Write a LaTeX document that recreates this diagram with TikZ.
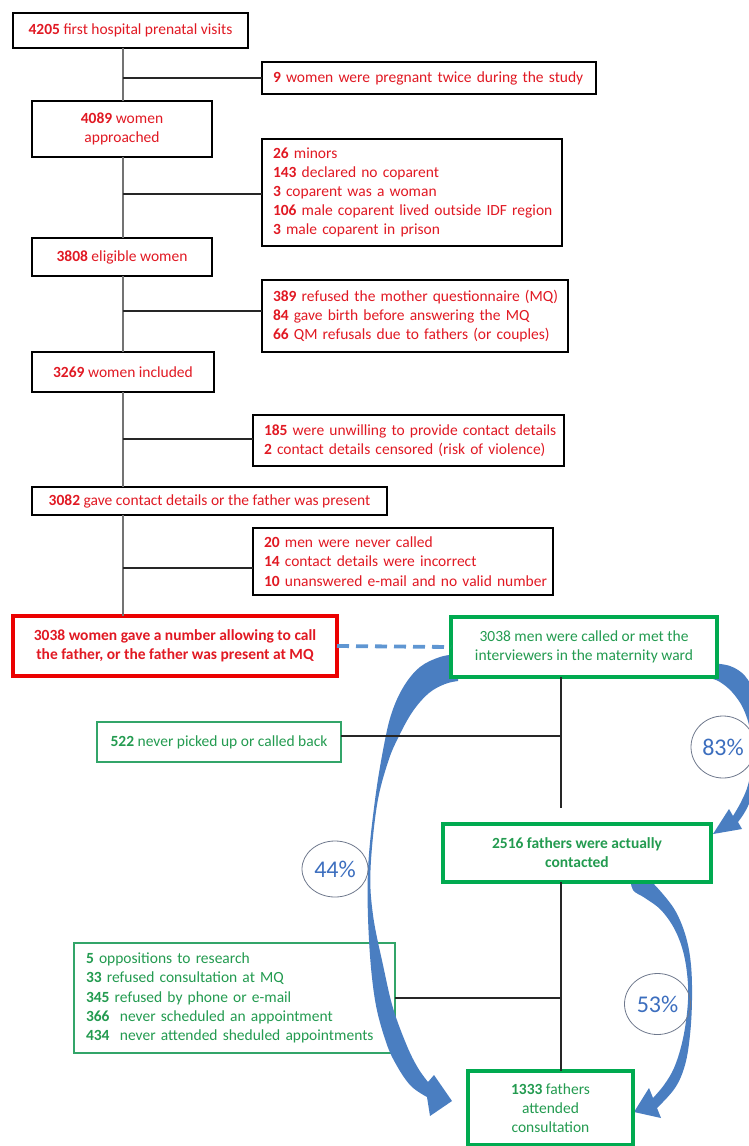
\documentclass[tikz,border=0pt]{standalone}
\usepackage{fontspec}
\setmainfont{Carlito}
\usetikzlibrary{shapes.geometric}
\definecolor{tred}{RGB}{225,25,35}
\definecolor{kred}{RGB}{235,0,0}
\definecolor{tgreen}{RGB}{35,155,80}
\definecolor{gborder}{RGB}{0,170,80}
\definecolor{gthincol}{RGB}{50,165,105}
\definecolor{arrowblue}{RGB}{74,126,193}
\definecolor{dashblue}{RGB}{95,150,210}
\definecolor{pctblue}{RGB}{60,110,190}
\definecolor{circcol}{RGB}{110,120,140}
\newcommand\bodyfont{\fontsize{15.5}{19.2}\selectfont}
\newcommand\pctfont{\fontsize{24}{28}\selectfont}
\newcommand\oneline[1]{\mbox{#1}}
\begin{document}
\begin{tikzpicture}[x=1pt,y=-1pt,
  box/.style={draw, fill=white, anchor=north west, inner ysep=0pt, inner xsep=0pt, outer sep=0pt, font=\bodyfont, align=center},
  blk/.style={box, draw=black, line width=1.4pt, text=tred},
  blkl/.style={blk, align=left, inner xsep=11pt},
  redthick/.style={box, draw=kred, line width=3.6pt, text=tred, font=\bodyfont\bfseries},
  gthick/.style={box, draw=gborder, line width=3.6pt, text=tgreen},
  gthin/.style={box, draw=gthincol, line width=1.2pt, text=tgreen},
  gthinl/.style={gthin, align=left, inner xsep=12pt},
  vline/.style={draw=black!55, line width=1.3pt},
  hline/.style={draw=black!85, line width=1.3pt},
  arr/.style={fill=arrowblue},
  pct/.style={ellipse, draw=circcol, line width=0.8pt, inner sep=0pt, text=pctblue, font=\pctfont},
  dashconn/.style={draw=dashblue, line width=3.8pt, dash pattern=on 12pt off 7pt}
]
\path[use as bounding box] (0,0) rectangle (749,1146);
\coordinate (main) at (123,0);
\coordinate (rmain) at (561,0);
\coordinate (gapend) at (561,808);

% red / black part
\node[blk, minimum width=235pt, minimum height=35pt] (A) at (13,13) {\textbf{4205} first hospital prenatal visits};
\node[blkl, text width=312pt, minimum height=32pt] (B) at (262,62) {\oneline{\textbf{9} women were pregnant twice during the study}};
\node[blk, minimum width=180pt, minimum height=56pt] (C) at (32,101) {\textbf{4089} women\\approached};
\node[blkl, text width=278pt, minimum height=107pt] (D) at (262,139) {\oneline{\textbf{26} minors}\\\oneline{\textbf{143} declared no coparent}\\\oneline{\textbf{3} coparent was a woman}\\\oneline{\textbf{106} male coparent lived outside IDF region}\\\oneline{\textbf{3} male coparent in prison}};
\node[blk, minimum width=180pt, minimum height=38pt] (E) at (32,238) {\textbf{3808} eligible women};
\node[blkl, text width=284pt, minimum height=72pt] (F) at (262,280) {\oneline{\textbf{389} refused the mother questionnaire (MQ)}\\\oneline{\textbf{84} gave birth before answering the MQ}\\\oneline{\textbf{66} QM refusals due to fathers (or couples)}};
\node[blk, minimum width=182pt, minimum height=40pt] (G) at (32,352) {\textbf{3269} women included};
\node[blkl, text width=289pt, minimum height=51pt] (H) at (253,415) {\oneline{\textbf{185} were unwilling to provide contact details}\\\oneline{\textbf{2} contact details censored (risk of violence)}};
\node[blk, minimum width=355pt, minimum height=28pt] (I) at (32,487) {\textbf{3082} gave contact details or the father was present};
\node[blkl, text width=278pt, minimum height=67pt] (J) at (253,528) {\oneline{\textbf{20} men were never called}\\\oneline{\textbf{14} contact details were incorrect}\\\oneline{\textbf{10} unanswered e-mail and no valid number}};
\node[redthick, minimum width=324pt, minimum height=60pt] (K) at (13,616) {3038 women gave a number allowing to call\\the father, or the father was present at MQ};

% green thin boxes
\node[gthin, minimum width=244pt, minimum height=40pt] (M) at (97,722) {\textbf{522} never picked up or called back};
\node[gthinl, text width=297pt, minimum height=110pt] (O) at (74,943) {\oneline{\textbf{5} oppositions to research}\\\oneline{\textbf{33} refused consultation at MQ}\\\oneline{\textbf{345} refused by phone or e-mail}\\\oneline{\textbf{366}\ \ never scheduled an appointment}\\\oneline{\textbf{434}\ \ never attended sheduled appointments}};

% curved blue arrows
\begin{scope}
\clip (0,0) rectangle (749,1146);
\fill[arr] plot[smooth, tension=0.6] coordinates {(458,654) (440,657) (420,667) (404,686) (392,712) (384,745) (375,800) (368,870) (369,940) (375,1000) (386,1042) (397,1066) (411,1086) (427,1097)}
  -- (430,1116) -- (452,1101) -- (434,1075)
  -- plot[smooth, tension=0.6] coordinates {(428,1082) (418,1068) (407,1046) (393,1008) (383,965) (373,915) (370.5,870) (377,805) (388,762) (399,736) (413,711) (429,693) (445,684) (458,681)} -- cycle;
\fill[arr] plot[smooth, tension=0.6] coordinates {(710,663) (730,666) (745,676) (755,695) (759,725) (758,760) (754,790) (746,810) (738,822)}
  -- (742,829) -- (713,834) -- (729,809)
  -- plot[smooth, tension=0.6] coordinates {(733,816) (741,802) (748,785) (752,760) (750,730) (743,708) (732,692) (720,682) (710,678)} -- cycle;
\fill[arr] plot[smooth, tension=0.6] coordinates {(646,876) (662,893) (676,912) (686,937) (691,965) (692,1000) (690,1035) (685,1065) (675,1088) (657,1108)}
  -- (661,1118) -- (634,1112) -- (649,1088)
  -- plot[smooth, tension=0.6] coordinates {(653,1098) (664,1085) (674,1068) (682,1043) (687,1013) (688,985) (684,955) (675,930) (661,910) (645,898) (633,890) (630,876)} -- cycle;
\end{scope}

% green thick boxes
\node[gthick, minimum width=266pt, minimum height=60pt] (L) at (451,617) {3038 men were called or met the\\interviewers in the maternity ward};
\node[gthick, font=\bodyfont\bfseries, minimum width=268pt, minimum height=58pt] (N) at (443,824) {2516 fathers were actually\\contacted};
\node[gthick, minimum width=165pt, minimum height=74pt] (P) at (468,1071) {\textbf{1333} fathers\\attended\\consultation};

% main column connectors
\draw[vline] (A.south -| main) -- (C.north -| main);
\draw[vline] (C.south -| main) -- (E.north -| main);
\draw[vline] (E.south -| main) -- (G.north -| main);
\draw[vline] (G.south -| main) -- (I.north -| main);
\draw[vline] (I.south -| main) -- (K.north -| main);
\draw[hline] (B.west) -- (B.west -| main);
\draw[hline] ([yshift=-1.5pt]D.west) -- ++(-139,0);
\draw[hline] ([yshift=5pt]F.west) -- ++(-139,0);
\draw[hline] ([yshift=1.5pt]H.west) -- ++(-130,0);
\draw[hline] ([yshift=-6.5pt]J.west) -- ++(-130,0);

% dashed link
\draw[dashconn] (K.east) -- (L.west);

% right column connectors
\draw[hline] (L.south -| rmain) -- (gapend);
\draw[hline] ([yshift=6pt]M.east) -- ++(220,0);
\draw[hline] (N.south -| rmain) -- (P.north -| rmain);
\draw[hline] (O.east) -- (O.east -| rmain);

% percentages
\node[pct, minimum width=66pt, minimum height=56pt] (p44) at (335,869) {44\%};
\node[pct, minimum width=64pt, minimum height=62pt] (p83) at (723,747) {83\%};
\node[pct, minimum width=66pt, minimum height=61pt] (p53) at (657.5,1004) {53\%};
\end{tikzpicture}
\end{document}
